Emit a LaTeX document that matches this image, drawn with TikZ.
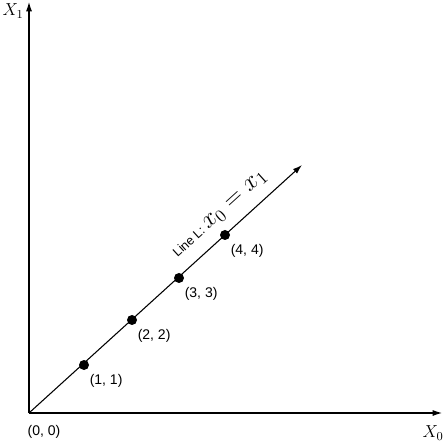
\RequirePackage{fix-cm}
\documentclass[tikz,border=0pt]{standalone}
\usepackage[no-math]{fontspec}
\setmainfont{Liberation Sans}
\usepackage{tikz}
\usetikzlibrary{arrows.meta}

\begin{document}
\begin{tikzpicture}[x=0.75pt,y=0.75pt, >={Latex[length=7pt,width=4.5pt]}, line width=0.8pt,
    pt/.style={circle, fill=black, inner sep=0pt, minimum size=7.5pt},
    ptlabel/.style={anchor=north west, inner sep=1pt, font=\fontsize{10.5}{12}\selectfont}]
        \useasboundingbox (0,0) rectangle (445,442);

        % axes
        \coordinate (o)  at (29,29);
        \coordinate (x0) at (442,29);
        \coordinate (x1) at (29,440);
        \coordinate (e)  at (302,277);

        \draw[->] (o) -- (x0);
        \draw[->] (o) -- (x1);
        \draw[->] (o) -- (e)
          node[pos=0.745, sloped, above, inner sep=8pt] {\fontsize{9.5}{11}\selectfont Line L: \fontsize{19}{21}\selectfont$x_0 = x_1$};

        \node (lx1) at (13,431) {\fontsize{13}{15}\selectfont$X_1$};
        \node (lx0) at (433,9) {\fontsize{13}{15}\selectfont$X_0$};
        \node[font=\fontsize{10.5}{12}\selectfont] (lo) at (44,10) {(0, 0)};

        % points on the line
        \begin{scope}[every node/.style={pt}]
          \node (1) at (84,77)  {};
          \node (2) at (132,122) {};
          \node (3) at (179,164) {};
          \node (4) at (225,207) {};
        \end{scope}

        \node[ptlabel] at ([yshift=-3pt]1.south east) {(1, 1)};
        \node[ptlabel] at ([yshift=-3pt]2.south east) {(2, 2)};
        \node[ptlabel] at ([yshift=-3pt]3.south east) {(3, 3)};
        \node[ptlabel] at ([yshift=-3pt]4.south east) {(4, 4)};

\end{tikzpicture}
\end{document}
